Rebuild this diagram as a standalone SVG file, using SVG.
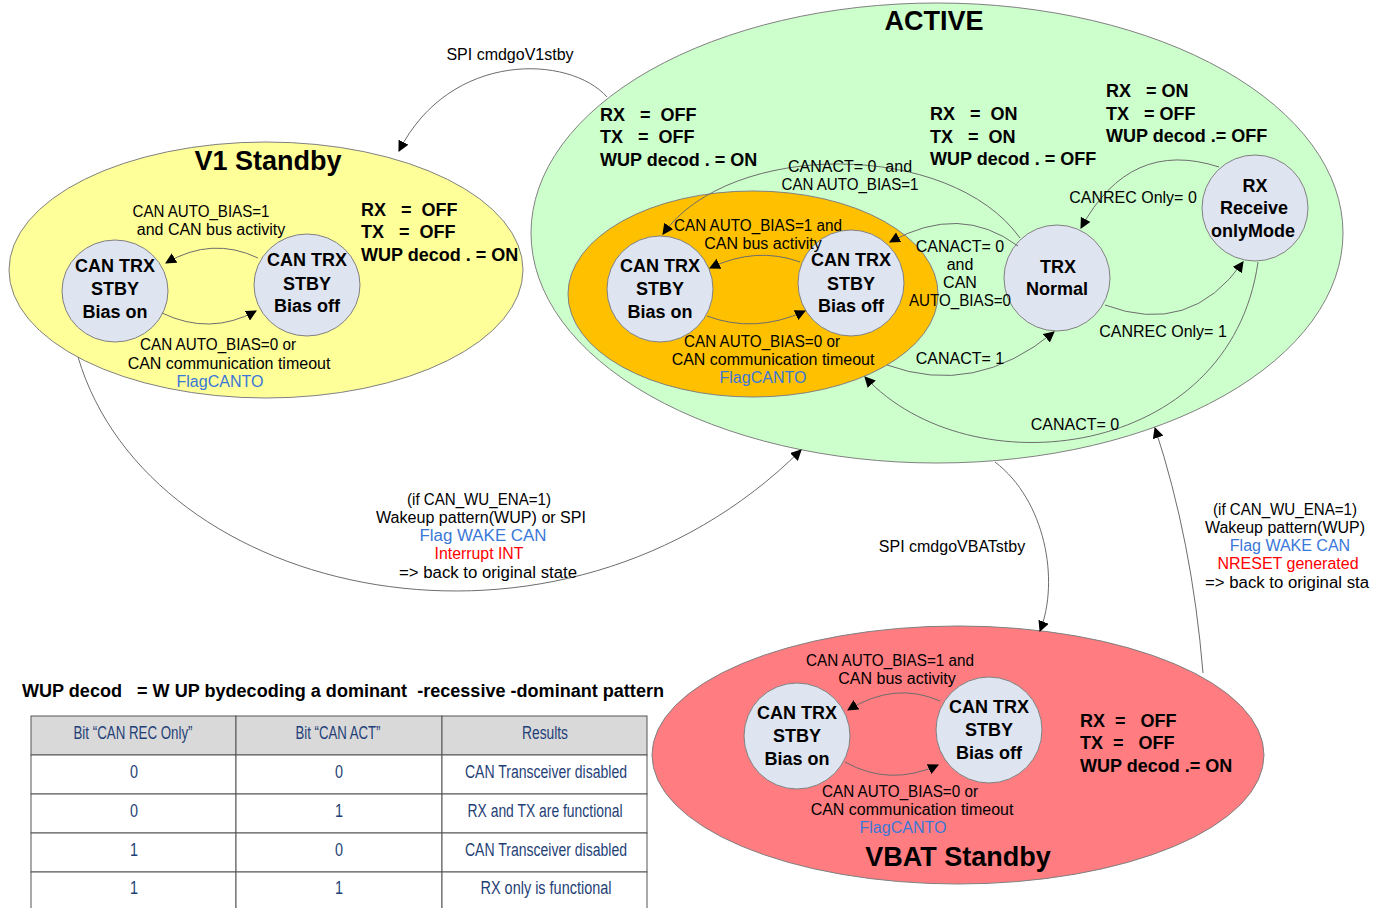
<svg xmlns="http://www.w3.org/2000/svg" width="1379" height="908" viewBox="0 0 1379 908">
<style>
text{font-family:"Liberation Sans",Arial,sans-serif;fill:#000;white-space:pre}
.lb{font-size:16px;text-anchor:middle}
.nb{font-size:16px;text-anchor:middle}
.st{font-size:18px;font-weight:bold}
.cn{font-size:18px;font-weight:bold;text-anchor:middle}
.ttl{font-size:27px;font-weight:bold;text-anchor:middle}
.blue{fill:#3a78d8}
.red{fill:#ff0000}
.circ{fill:#dfe5f0;stroke:#808080;stroke-width:1}
.reg{stroke:#808080;stroke-width:1}
.con{fill:none;stroke:#6d6d6d;stroke-width:1;marker-end:url(#ah)}
.tb{font-family:"Liberation Sans",Arial,sans-serif;font-size:18px;fill:#1f3f77;text-anchor:middle}
.cell{fill:#fff;stroke:#555;stroke-width:1}
.hcell{fill:#d9d9d9;stroke:#555;stroke-width:1}
</style>
<defs>
<marker id="ah" viewBox="0 0 10 10" refX="9" refY="5" markerWidth="11" markerHeight="11" markerUnits="userSpaceOnUse" orient="auto">
<path d="M0,0 L10,5 L0,10 z" fill="#000"/>
</marker>
</defs>
<rect width="1379" height="908" fill="#fff"/>

<g id="active">
<ellipse class="reg" cx="937" cy="233" rx="406" ry="230" fill="#ccffcc"/>
<text class="ttl" x="934" y="30">ACTIVE</text>
<text class="st" x="600" y="121">RX   =  OFF</text>
<text class="st" x="600" y="143">TX   =  OFF</text>
<text class="st" x="600" y="166">WUP decod . = ON</text>
<text class="st" x="930" y="120">RX   =  ON</text>
<text class="st" x="930" y="143">TX   =  ON</text>
<text class="st" x="930" y="165">WUP decod . = OFF</text>
<text class="st" x="1106" y="97">RX   = ON</text>
<text class="st" x="1106" y="120">TX   = OFF</text>
<text class="st" x="1106" y="142">WUP decod .= OFF</text>
</g>

<g id="active-stby">
<ellipse class="reg" cx="753" cy="294" rx="185" ry="103" fill="#ffc000"/>
</g>

<g id="v1standby">
<ellipse class="reg" cx="266" cy="270" rx="257" ry="128" fill="#ffff99"/>
<text class="ttl" x="268" y="170">V1 Standby</text>
<text class="st" x="361" y="216">RX   =  OFF</text>
<text class="st" x="361" y="238">TX   =  OFF</text>
<text class="st" x="361" y="261">WUP decod . = ON</text>
</g>

<g id="vbatstandby">
<ellipse class="reg" cx="958" cy="755" rx="306" ry="129" fill="#ff7c80"/>
<text class="ttl" x="958" y="866">VBAT Standby</text>
<text class="st" x="1080" y="727">RX  =   OFF</text>
<text class="st" x="1080" y="749">TX  =   OFF</text>
<text class="st" x="1080" y="772">WUP decod .= ON</text>
</g>

<g id="v1-bias-on"><ellipse class="circ" cx="115" cy="291" rx="53" ry="51"/>
<text class="cn" x="115" y="272">CAN TRX</text><text class="cn" x="115" y="295">STBY</text><text class="cn" x="115" y="318">Bias on</text></g>
<g id="v1-bias-off"><ellipse class="circ" cx="307" cy="285" rx="53" ry="51"/>
<text class="cn" x="307" y="266">CAN TRX</text><text class="cn" x="307" y="290">STBY</text><text class="cn" x="307" y="312">Bias off</text></g>

<g id="act-bias-on"><circle class="circ" cx="660" cy="289" r="53"/>
<text class="cn" x="660" y="272">CAN TRX</text><text class="cn" x="660" y="295">STBY</text><text class="cn" x="660" y="318">Bias on</text></g>
<g id="act-bias-off"><circle class="circ" cx="851" cy="283" r="53"/>
<text class="cn" x="851" y="266">CAN TRX</text><text class="cn" x="851" y="290">STBY</text><text class="cn" x="851" y="312">Bias off</text></g>
<g id="trx-normal"><circle class="circ" cx="1057" cy="278" r="53"/>
<text class="cn" x="1058" y="273">TRX</text><text class="cn" x="1057" y="295">Normal</text></g>
<g id="rx-only"><circle class="circ" cx="1255" cy="208" r="53"/>
<text class="cn" x="1255" y="192">RX</text><text class="cn" x="1254" y="214">Receive</text><text class="cn" x="1253" y="237">onlyMode</text></g>

<g id="vb-bias-on"><circle class="circ" cx="797" cy="736" r="53"/>
<text class="cn" x="797" y="719">CAN TRX</text><text class="cn" x="797" y="742">STBY</text><text class="cn" x="797" y="765">Bias on</text></g>
<g id="vb-bias-off"><circle class="circ" cx="989" cy="730" r="53"/>
<text class="cn" x="989" y="713">CAN TRX</text><text class="cn" x="989" y="736">STBY</text><text class="cn" x="989" y="759">Bias off</text></g>

<g id="connectors">
<path class="con" d="M607,97 C570,55 450,50 399,151"/>
<path class="con" d="M258,258 Q212,236 166,263"/>
<path class="con" d="M162,313 Q210,336 256,311"/>
<path class="con" d="M1020,238 C950,140 730,140 663,234"/>
<path class="con" d="M800,262 Q756,246 710,268"/>
<path class="con" d="M707,316 Q755,334 805,311"/>
<path class="con" d="M1018,246 Q960,203 890,242"/>
<path class="con" d="M887,365 Q975,397 1054,332"/>
<path class="con" d="M1219,167 Q1130,138 1081,228"/>
<path class="con" d="M1105,305 Q1190,337 1243,262"/>
<path class="con" d="M1258,262 C1230,460 970,490 865,377"/>
<path class="con" d="M78,357 C150,600 560,690 801,450"/>
<path class="con" d="M995,462 C1045,500 1060,580 1040,631"/>
<path class="con" d="M1203,673 Q1192,540 1155,428"/>
<path class="con" d="M940,701 Q895,681 848,710"/>
<path class="con" d="M845,762 Q890,787 938,765"/>
</g>

<g id="labels">
<text class="lb" x="510" y="60">SPI cmdgoV1stby</text>
<text class="lb" x="201" y="217" textLength="137" lengthAdjust="spacingAndGlyphs">CAN AUTO_BIAS=1</text>
<text class="lb" x="211" y="235">and CAN bus activity</text>
<text class="lb" x="218" y="350" textLength="156" lengthAdjust="spacingAndGlyphs">CAN AUTO_BIAS=0 or</text>
<text class="lb" x="229" y="369">CAN communication timeout</text>
<text class="lb blue" x="220" y="387" textLength="87" lengthAdjust="spacingAndGlyphs">FlagCANTO</text>

<text class="lb" x="850" y="172">CANACT= 0  and</text>
<text class="lb" x="850" y="190" textLength="137" lengthAdjust="spacingAndGlyphs">CAN AUTO_BIAS=1</text>
<text class="lb" x="758" y="231" textLength="168" lengthAdjust="spacingAndGlyphs">CAN AUTO_BIAS=1 and</text>
<text class="lb" x="763" y="249">CAN bus activity</text>
<text class="lb" x="762" y="347" textLength="156" lengthAdjust="spacingAndGlyphs">CAN AUTO_BIAS=0 or</text>
<text class="lb" x="773" y="365">CAN communication timeout</text>
<text class="lb blue" x="763" y="383" textLength="87" lengthAdjust="spacingAndGlyphs">FlagCANTO</text>
<text class="lb" x="960" y="252">CANACT= 0</text>
<text class="lb" x="960" y="270">and</text>
<text class="lb" x="960" y="288">CAN</text>
<text class="lb" x="960" y="306" textLength="102" lengthAdjust="spacingAndGlyphs">AUTO_BIAS=0</text>
<text class="lb" x="960" y="364">CANACT= 1</text>
<text class="lb" x="1133" y="203">CANREC Only= 0</text>
<text class="lb" x="1163" y="337">CANREC Only= 1</text>
<text class="lb" x="1075" y="430">CANACT= 0</text>

<text class="nb" x="479" y="505" textLength="144" lengthAdjust="spacingAndGlyphs">(if CAN_WU_ENA=1)</text>
<text class="nb" x="481" y="523" textLength="210" lengthAdjust="spacingAndGlyphs">Wakeup pattern(WUP) or SPI</text>
<text class="nb blue" x="483" y="541" textLength="127" lengthAdjust="spacingAndGlyphs">Flag WAKE CAN</text>
<text class="nb red" x="479" y="559" textLength="89" lengthAdjust="spacingAndGlyphs">Interrupt INT</text>
<text class="nb" x="488" y="578" textLength="178" lengthAdjust="spacingAndGlyphs">=&gt; back to original state</text>

<text class="lb" x="952" y="552">SPI cmdgoVBATstby</text>

<text class="lb" x="1285" y="515" textLength="144" lengthAdjust="spacingAndGlyphs">(if CAN_WU_ENA=1)</text>
<text class="lb" x="1285" y="533" textLength="160" lengthAdjust="spacingAndGlyphs">Wakeup pattern(WUP)</text>
<text class="lb blue" x="1290" y="551">Flag WAKE CAN</text>
<text class="lb red" x="1288" y="569">NRESET generated</text>
<text class="lb" x="1287" y="588" textLength="164" lengthAdjust="spacingAndGlyphs">=&gt; back to original sta</text>

<text class="lb" x="890" y="666" textLength="168" lengthAdjust="spacingAndGlyphs">CAN AUTO_BIAS=1 and</text>
<text class="lb" x="897" y="684">CAN bus activity</text>
<text class="lb" x="900" y="797" textLength="156" lengthAdjust="spacingAndGlyphs">CAN AUTO_BIAS=0 or</text>
<text class="lb" x="912" y="815">CAN communication timeout</text>
<text class="lb blue" x="903" y="833" textLength="87" lengthAdjust="spacingAndGlyphs">FlagCANTO</text>

<text class="st" x="22" y="697" textLength="642" lengthAdjust="spacingAndGlyphs">WUP decod   = W UP bydecoding a dominant  -recessive -dominant pattern</text>
</g>

<g id="table">
<rect class="hcell" x="31" y="716" width="205" height="39"/>
<rect class="hcell" x="236" y="716" width="206" height="39"/>
<rect class="hcell" x="442" y="716" width="205" height="39"/>
<rect class="cell" x="31" y="755" width="205" height="39"/><rect class="cell" x="236" y="755" width="206" height="39"/><rect class="cell" x="442" y="755" width="205" height="39"/>
<rect class="cell" x="31" y="794" width="205" height="39"/><rect class="cell" x="236" y="794" width="206" height="39"/><rect class="cell" x="442" y="794" width="205" height="39"/>
<rect class="cell" x="31" y="833" width="205" height="39"/><rect class="cell" x="236" y="833" width="206" height="39"/><rect class="cell" x="442" y="833" width="205" height="39"/>
<rect class="cell" x="31" y="872" width="205" height="40"/><rect class="cell" x="236" y="872" width="206" height="40"/><rect class="cell" x="442" y="872" width="205" height="40"/>
<text class="tb" x="133" y="739" textLength="119" lengthAdjust="spacingAndGlyphs">Bit “CAN REC Only”</text>
<text class="tb" x="338" y="739" textLength="85" lengthAdjust="spacingAndGlyphs">Bit “CAN ACT”</text>
<text class="tb" x="545" y="739" textLength="46" lengthAdjust="spacingAndGlyphs">Results</text>
<text class="tb" x="134" y="778" textLength="8" lengthAdjust="spacingAndGlyphs">0</text><text class="tb" x="339" y="778" textLength="8" lengthAdjust="spacingAndGlyphs">0</text><text class="tb" x="546" y="778" textLength="162" lengthAdjust="spacingAndGlyphs">CAN Transceiver disabled</text>
<text class="tb" x="134" y="817" textLength="8" lengthAdjust="spacingAndGlyphs">0</text><text class="tb" x="339" y="817" textLength="8" lengthAdjust="spacingAndGlyphs">1</text><text class="tb" x="545" y="817" textLength="155" lengthAdjust="spacingAndGlyphs">RX and TX are functional</text>
<text class="tb" x="134" y="856" textLength="8" lengthAdjust="spacingAndGlyphs">1</text><text class="tb" x="339" y="856" textLength="8" lengthAdjust="spacingAndGlyphs">0</text><text class="tb" x="546" y="856" textLength="162" lengthAdjust="spacingAndGlyphs">CAN Transceiver disabled</text>
<text class="tb" x="134" y="894" textLength="8" lengthAdjust="spacingAndGlyphs">1</text><text class="tb" x="339" y="894" textLength="8" lengthAdjust="spacingAndGlyphs">1</text><text class="tb" x="546" y="894" textLength="131" lengthAdjust="spacingAndGlyphs">RX only is functional</text>
</g>
</svg>
